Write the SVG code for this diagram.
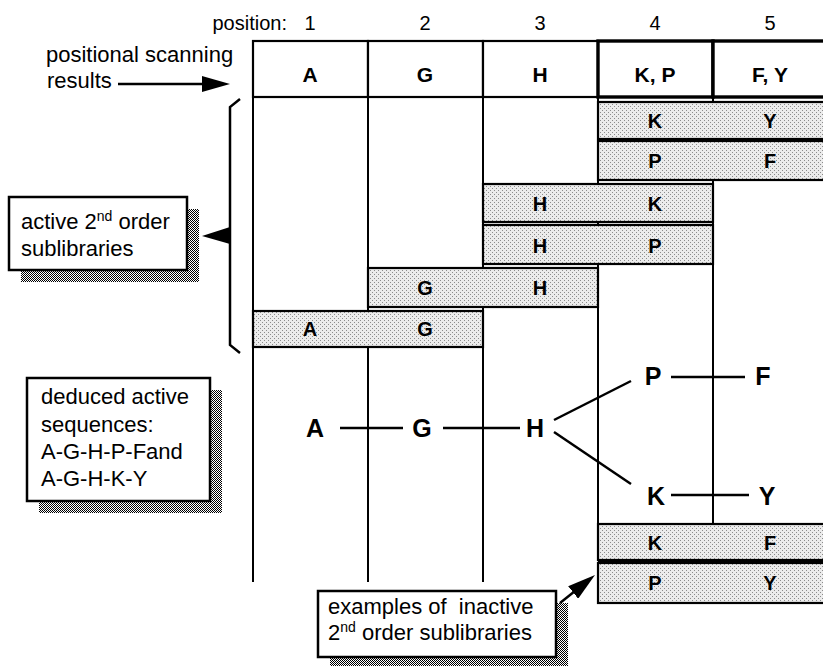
<svg xmlns="http://www.w3.org/2000/svg" width="823" height="666" viewBox="0 0 823 666">
<defs>
<pattern id="dots" width="4" height="4" patternUnits="userSpaceOnUse"><rect width="4" height="4" fill="#ececec"/><rect x="0" y="0" width="1" height="1" fill="#8c8c8c"/><rect x="2" y="2" width="1" height="1" fill="#8c8c8c"/></pattern>
<pattern id="chk" width="2" height="2" patternUnits="userSpaceOnUse"><rect width="2" height="2" fill="#fff"/><rect width="1" height="1" fill="#000"/><rect x="1" y="1" width="1" height="1" fill="#000"/></pattern>
<marker id="ah" viewBox="0 0 28 16" refX="28" refY="8" markerWidth="28" markerHeight="16" markerUnits="userSpaceOnUse" orient="auto"><path d="M0,0 L28,8 L0,16 z" fill="#000"/></marker>
</defs>
<style>
text{font-family:"Liberation Sans",Arial,sans-serif;fill:#000}
.lbl{font-size:22px;white-space:pre}
.num{font-size:20px;text-anchor:middle}
.hd{font-size:21px;font-weight:bold;text-anchor:middle}
.bl{font-size:20px;font-weight:bold;text-anchor:middle}
.sq{font-size:25px;font-weight:bold;text-anchor:middle}
.sup{font-size:14px}
.bar{fill:url(#dots);stroke:#000;stroke-width:2.2}
.cell{fill:#fff;stroke:#000;stroke-width:2.2}
.vl{stroke:#000;stroke-width:2;fill:none}
.box{fill:#fff;stroke:#000;stroke-width:2.5}
.shadow{fill:url(#chk)}
.ln{stroke:#000;stroke-width:2.5;fill:none}
.sep{stroke:#000;stroke-width:4}
</style>
<rect width="823" height="666" fill="#fff"/>

<!-- position labels -->
<g id="positions">
<text x="287" y="30" style="font-size:20px;text-anchor:end">position:</text>
<text class="num" x="310" y="30">1</text>
<text class="num" x="425" y="30">2</text>
<text class="num" x="540" y="30">3</text>
<text class="num" x="655" y="30">4</text>
<text class="num" x="770" y="30">5</text>
</g>

<!-- grid columns -->
<g id="grid">
<line class="vl" x1="253" y1="97" x2="253" y2="582"/>
<line class="vl" x1="368" y1="97" x2="368" y2="582"/>
<line class="vl" x1="483" y1="97" x2="483" y2="582"/>
<line class="vl" x1="598" y1="97" x2="598" y2="524"/>
<line class="vl" x1="713" y1="97" x2="713" y2="524"/>
</g>

<!-- header row -->
<g id="header">
<rect class="cell" x="253" y="41" width="115" height="56"/>
<rect class="cell" x="368" y="41" width="115" height="56"/>
<rect class="cell" x="483" y="41" width="115" height="56"/>
<rect class="cell" x="598" y="41" width="115" height="56" style="stroke-width:3.4"/>
<rect class="cell" x="713" y="41" width="120" height="56" style="stroke-width:3.4"/>
<text class="hd" x="310" y="82">A</text>
<text class="hd" x="425" y="82">G</text>
<text class="hd" x="540" y="82">H</text>
<text class="hd" x="655" y="82">K, P</text>
<text class="hd" x="770" y="82">F, Y</text>
</g>

<!-- active 2nd order sublibrary bars -->
<g id="bar-KY"><rect class="bar" x="598" y="102" width="235" height="37"/><text class="bl" x="655" y="128">K</text><text class="bl" x="770" y="128">Y</text></g>
<g id="bar-PF"><rect class="bar" x="598" y="141" width="235" height="39"/><text class="bl" x="655" y="168">P</text><text class="bl" x="770" y="168">F</text></g>
<line class="sep" x1="598" y1="140" x2="823" y2="140"/>
<g id="bar-HK"><rect class="bar" x="483" y="184" width="230" height="38"/><text class="bl" x="540" y="211">H</text><text class="bl" x="655" y="211">K</text></g>
<g id="bar-HP"><rect class="bar" x="483" y="225" width="230" height="39"/><text class="bl" x="540" y="253">H</text><text class="bl" x="655" y="253">P</text></g>
<g id="bar-GH"><rect class="bar" x="368" y="268" width="230" height="39"/><text class="bl" x="425" y="295">G</text><text class="bl" x="540" y="295">H</text></g>
<g id="bar-AG"><rect class="bar" x="253" y="311" width="230" height="36"/><text class="bl" x="310" y="336">A</text><text class="bl" x="425" y="336">G</text></g>

<!-- inactive bars -->
<g id="bar-KF"><rect class="bar" x="598" y="524" width="235" height="36"/><text class="bl" x="655" y="550">K</text><text class="bl" x="770" y="550">F</text></g>
<g id="bar-PY"><rect class="bar" x="598" y="563" width="235" height="40"/><text class="bl" x="655" y="590">P</text><text class="bl" x="770" y="590">Y</text></g>
<line class="sep" x1="598" y1="561.5" x2="823" y2="561.5"/>

<!-- sequence nodes -->
<g id="seq-A"><text class="sq" x="315" y="437">A</text></g>
<g id="seq-G"><text class="sq" x="422" y="437">G</text></g>
<g id="seq-H"><text class="sq" x="535" y="437">H</text></g>
<g id="seq-P"><text class="sq" x="653" y="385">P</text></g>
<g id="seq-F"><text class="sq" x="763" y="385">F</text></g>
<g id="seq-K"><text class="sq" x="656" y="505">K</text></g>
<g id="seq-Y"><text class="sq" x="767" y="505">Y</text></g>

<!-- labels -->
<g id="label-scanning">
<text class="lbl" x="46" y="62">positional scanning</text>
<text class="lbl" x="47" y="88">results</text>
</g>
<g id="label-active">
<rect class="shadow" x="21" y="209" width="178" height="73"/>
<rect class="box" x="9" y="197" width="178" height="73"/>
<text class="lbl" x="21" y="229">active 2<tspan class="sup" dy="-8">nd</tspan><tspan dy="8"> order</tspan></text>
<text class="lbl" x="21" y="256">sublibraries</text>
</g>
<g id="label-deduced">
<rect class="shadow" x="39" y="390" width="183" height="123"/>
<rect class="box" x="27" y="378" width="183" height="123"/>
<text class="lbl" x="41" y="404">deduced active</text>
<text class="lbl" x="41" y="432">sequences:</text>
<text class="lbl" x="41" y="459">A-G-H-P-Fand</text>
<text class="lbl" x="41" y="486">A-G-H-K-Y</text>
</g>
<g id="label-inactive">
<rect class="shadow" x="330" y="603" width="238" height="66"/>
<rect class="box" x="318" y="591" width="238" height="66"/>
<text class="lbl" x="328" y="614">examples of  inactive</text>
<text class="lbl" x="328" y="640">2<tspan class="sup" dy="-8">nd</tspan><tspan dy="8"> order sublibraries</tspan></text>
</g>

<!-- connectors -->
<g id="connectors">
<line class="ln" x1="118" y1="84" x2="215" y2="84"/>
<line x1="210" y1="84" x2="230" y2="84" stroke="none" marker-end="url(#ah)"/>
<path class="ln" d="M240,99 L230,107 L230,345 L240,353"/>
<polygon points="202,236 230,227 230,244" fill="#000"/>
<line class="ln" x1="340" y1="428" x2="403" y2="428"/>
<line class="ln" x1="443" y1="428" x2="520" y2="428"/>
<line class="ln" x1="554" y1="420" x2="631" y2="381"/>
<line class="ln" x1="554" y1="432" x2="631" y2="484"/>
<line class="ln" x1="671" y1="377" x2="745" y2="377"/>
<line class="ln" x1="671" y1="495" x2="749" y2="495"/>
<line class="ln" x1="560" y1="603" x2="585" y2="583"/>
<line x1="580" y1="587" x2="595" y2="575" stroke="none" marker-end="url(#ah)"/>
</g>
</svg>
